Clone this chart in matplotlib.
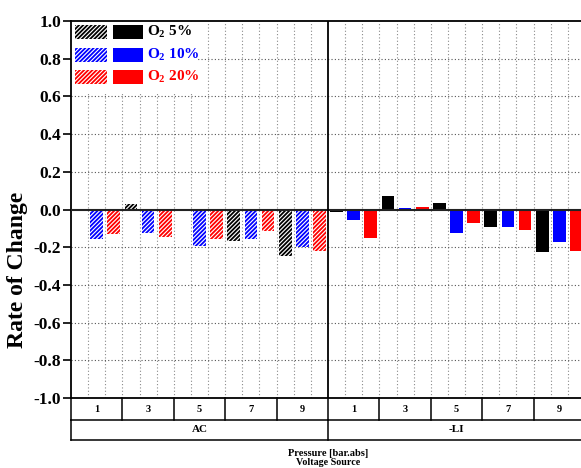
import matplotlib
matplotlib.use("Agg")
import matplotlib.pyplot as plt
from matplotlib.patches import Rectangle
from matplotlib.transforms import blended_transform_factory
import numpy as np

plt.rcParams['font.family'] = ['Liberation Serif', 'DejaVu Serif']
plt.rcParams['font.weight'] = 'bold'
plt.rcParams['mathtext.fontset'] = 'custom'
plt.rcParams['mathtext.rm'] = 'Liberation Serif:bold'
plt.rcParams['mathtext.bf'] = 'Liberation Serif:bold'
plt.rcParams['mathtext.it'] = 'Liberation Serif:bold'
plt.rcParams['hatch.linewidth'] = 1.3

# ---------------- data ----------------
pressures = ['1', '3', '5', '7', '9']
groups = ['AC', '-LI']
series_labels = ['O$_2$ 5%', 'O$_2$ 10%', 'O$_2$ 20%']
series_colors = ['#000000', '#0000FF', '#FF0000']

ac_o2_5 = [0.0, 0.030, -0.007, -0.165, -0.245]
ac_o2_10 = [-0.156, -0.126, -0.191, -0.156, -0.200]
ac_o2_20 = [-0.132, -0.144, -0.158, -0.115, -0.222]
li_o2_5 = [-0.012, 0.071, 0.034, -0.094, -0.224]
li_o2_10 = [-0.055, 0.009, -0.124, -0.091, -0.174]
li_o2_20 = [-0.151, 0.011, -0.069, -0.107, -0.219]

yticks = [-1.0, -0.8, -0.6, -0.4, -0.2, 0.0, 0.2, 0.4, 0.6, 0.8, 1.0]
ylabel = 'Rate of Change'
xlabel1 = 'Pressure [bar.abs]'
xlabel2 = 'Voltage Source'

data = {
    'AC': [ac_o2_5, ac_o2_10, ac_o2_20],
    '-LI': [li_o2_5, li_o2_10, li_o2_20],
}

W, H = 581, 468
fig = plt.figure(figsize=(W / 100, H / 100), dpi=100)


def fx(px):
    return px / W


def fy(py):
    return 1 - py / H


ax = fig.add_axes([fx(71), fy(398), (585 - 71) / W, (398 - 21) / H])

n_p = len(pressures)
n_s = len(series_labels)
per_group = n_p * n_s
total = per_group * len(groups)
bw = 0.74
HATCH = '////////'

for g, grp in enumerate(groups):
    for s in range(n_s):
        xs = np.array([g * per_group + p * n_s + s + 0.5 for p in range(n_p)])
        vals = data[grp][s]
        if grp == 'AC':
            ax.bar(xs, vals, width=bw, facecolor='white', edgecolor=series_colors[s],
                   hatch=HATCH, linewidth=0, zorder=3)
        else:
            ax.bar(xs, vals, width=bw, color=series_colors[s], linewidth=0, zorder=3)

ax.set_xlim(0, total)
ax.set_ylim(-1, 1)

# grid
for i in range(1, total):
    if i == per_group:
        continue
    ax.axvline(i, color='#8a8a8a', linestyle=(0, (1, 2)), linewidth=0.8, zorder=1)
for v in yticks:
    if abs(v) < 1e-9 or abs(abs(v) - 1) < 1e-9:
        continue
    ax.axhline(v, color='#555555', linestyle=(0, (1, 2)), linewidth=0.8, zorder=1)
ax.axhline(0, color='#222222', linewidth=1.5, zorder=4)
ax.axvline(per_group, color='black', linewidth=1.3, zorder=4)

ax.set_yticks(yticks)
ax.set_yticklabels([f'{v:.1f}' for v in yticks], fontsize=12.5, fontweight='bold')
ax.tick_params(axis='y', direction='out', length=6, width=1.2, pad=1)
ax.set_xticks([])
for sp in ['left', 'top', 'bottom']:
    ax.spines[sp].set_linewidth(1.3)
ax.spines['right'].set_visible(False)

# category table below axes
tr = blended_transform_factory(ax.transData, fig.transFigure)
lw = 1.1
for ypx in [420, 440]:
    ax.plot([0, total], [fy(ypx), fy(ypx)], transform=tr, color='black', lw=lw, clip_on=False)
for i in range(0, total + 1, n_s):
    ax.plot([i, i], [fy(398), fy(420)], transform=tr, color='black', lw=lw, clip_on=False)
for i in range(0, total + 1, per_group):
    ax.plot([i, i], [fy(420), fy(440)], transform=tr, color='black', lw=lw, clip_on=False)
for g, grp in enumerate(groups):
    for p, pr in enumerate(pressures):
        cx = g * per_group + p * n_s + n_s / 2
        ax.text(cx, fy(409), pr, transform=tr, ha='center', va='center', fontsize=7.5,
                fontweight='bold', clip_on=False)
    ax.text(g * per_group + per_group / 2, fy(430), grp, transform=tr, ha='center', va='center',
            fontsize=8, fontweight='bold', clip_on=False)
ax.text(total / 2, fy(453), xlabel1, transform=tr, ha='center', va='center', fontsize=7.5,
        fontweight='bold', clip_on=False)
ax.text(total / 2, fy(462.5), xlabel2, transform=tr, ha='center', va='center', fontsize=7.2,
        fontweight='bold', clip_on=False)

fig.text(fx(18), fy(270), ylabel, rotation=90, ha='center', va='center', fontsize=17,
         fontweight='bold')

# legend (manual)
fig.patches.append(Rectangle((fx(72), fy(93)), fx(198 - 72), (93 - 22) / H,
                             transform=fig.transFigure, facecolor='white', edgecolor='none',
                             zorder=5))
rows = [(25, 39), (47.5, 61.5), (70, 84)]
for s, (y0, y1) in enumerate(rows):
    c = series_colors[s]
    fig.patches.append(Rectangle((fx(75), fy(y1)), fx(107 - 75), (y1 - y0) / H,
                                 transform=fig.transFigure, facecolor='white', edgecolor=c,
                                 hatch=HATCH, linewidth=0, zorder=6))
    fig.patches.append(Rectangle((fx(113), fy(y1)), fx(143 - 113), (y1 - y0) / H,
                                 transform=fig.transFigure, facecolor=c, edgecolor='none',
                                 linewidth=0, zorder=6))
    fig.text(fx(147), fy((y0 + y1) / 2), series_labels[s], color=c, ha='left', va='center',
             fontsize=11, fontweight='bold', zorder=7)

fig.savefig('out.png', dpi=100)
